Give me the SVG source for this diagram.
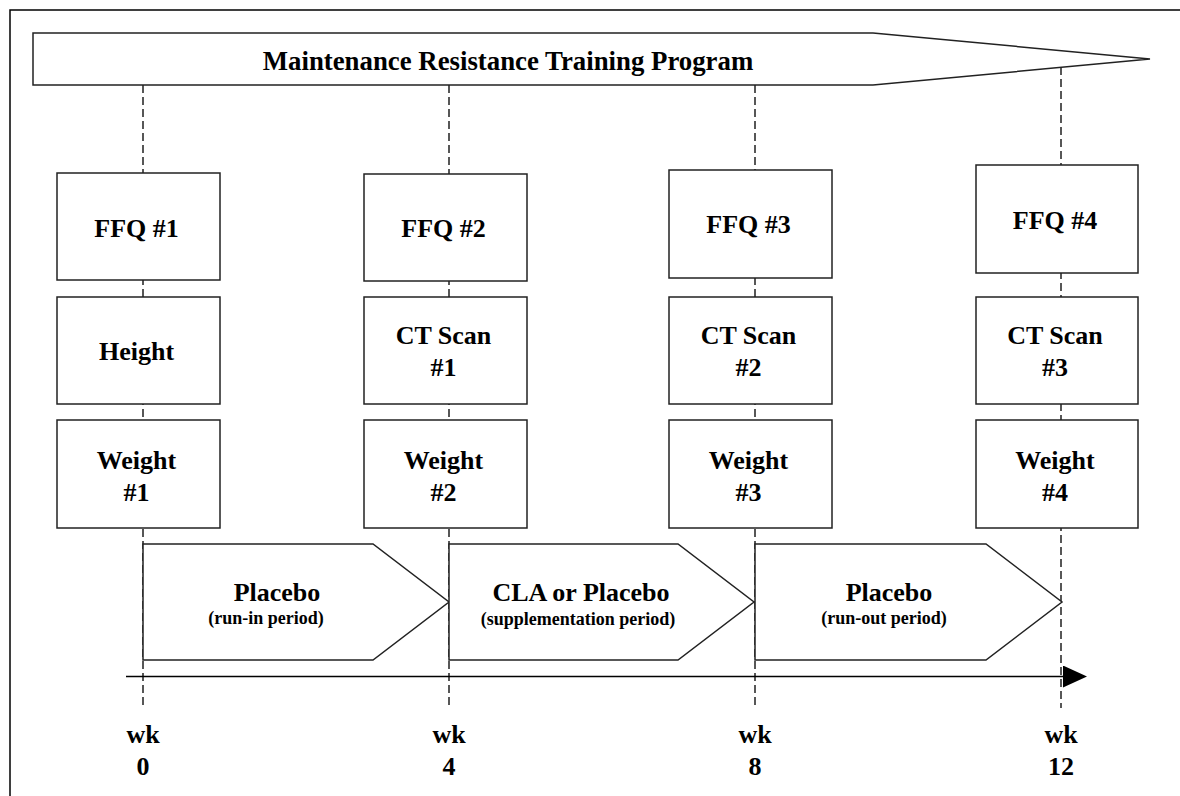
<svg xmlns="http://www.w3.org/2000/svg" width="1180" height="796" viewBox="0 0 1180 796">
<style>
.frame{fill:none;stroke:#000;stroke-width:1.5}
.box{fill:#fff;stroke:#222;stroke-width:1.5}
.dash{fill:none;stroke:#111;stroke-width:1.4;stroke-dasharray:8 4}
.axis{fill:none;stroke:#000;stroke-width:1.5}
.t{font-family:"Liberation Serif","Times New Roman",serif;font-weight:bold;font-size:26px;fill:#000;text-anchor:middle}
.ttl{font-size:26.8px}
.s{font-family:"Liberation Serif","Times New Roman",serif;font-weight:bold;font-size:18px;fill:#000;text-anchor:middle}
</style>
<defs>
<marker id="arr" markerWidth="24" markerHeight="22" refX="0" refY="11" orient="auto" markerUnits="userSpaceOnUse">
<path d="M0,0 L24,11 L0,22 Z" fill="#000"/>
</marker>
</defs>
<rect width="1180" height="796" fill="#fff"/>
<rect class="frame" x="10" y="10" width="1200" height="820"/>

<g id="connectors">
<line class="dash" x1="143" y1="85" x2="143" y2="708"/>
<line class="dash" x1="449" y1="85" x2="449" y2="708"/>
<line class="dash" x1="755" y1="85" x2="755" y2="708"/>
<line class="dash" x1="1061" y1="67" x2="1061" y2="708"/>
</g>

<g id="banner">
<polygon class="box" points="33,33 873,33 1150,59 873,85 33,85"/>
<text class="t ttl" x="508" y="70">Maintenance Resistance Training Program</text>
</g>

<g id="ffq1"><rect class="box" x="57" y="173" width="163" height="107"/><text class="t" x="136.5" y="237">FFQ #1</text></g>
<g id="height"><rect class="box" x="57" y="297" width="163" height="107"/><text class="t" x="136.5" y="360">Height</text></g>
<g id="weight1"><rect class="box" x="57" y="420" width="163" height="108"/><text class="t" x="136.5" y="469">Weight</text><text class="t" x="136.5" y="501">#1</text></g>

<g id="ffq2"><rect class="box" x="364" y="174" width="163" height="107"/><text class="t" x="443.5" y="237">FFQ #2</text></g>
<g id="ct1"><rect class="box" x="364" y="297" width="163" height="107"/><text class="t" x="443.5" y="344">CT Scan</text><text class="t" x="443.5" y="376">#1</text></g>
<g id="weight2"><rect class="box" x="364" y="420" width="163" height="108"/><text class="t" x="443.5" y="469">Weight</text><text class="t" x="443.5" y="501">#2</text></g>

<g id="ffq3"><rect class="box" x="669" y="170" width="163" height="108"/><text class="t" x="748.5" y="233">FFQ #3</text></g>
<g id="ct2"><rect class="box" x="669" y="297" width="163" height="107"/><text class="t" x="748.5" y="344">CT Scan</text><text class="t" x="748.5" y="376">#2</text></g>
<g id="weight3"><rect class="box" x="669" y="420" width="163" height="108"/><text class="t" x="748.5" y="469">Weight</text><text class="t" x="748.5" y="501">#3</text></g>

<g id="ffq4"><rect class="box" x="976" y="165" width="162" height="108"/><text class="t" x="1055" y="229">FFQ #4</text></g>
<g id="ct3"><rect class="box" x="976" y="297" width="162" height="107"/><text class="t" x="1055" y="344">CT Scan</text><text class="t" x="1055" y="376">#3</text></g>
<g id="weight4"><rect class="box" x="976" y="420" width="162" height="108"/><text class="t" x="1055" y="469">Weight</text><text class="t" x="1055" y="501">#4</text></g>

<g id="phase1"><polygon class="box" points="143,544 373,544 449,602 373,660 143,660"/><text class="t" x="277" y="601">Placebo</text><text class="s" x="266" y="624">(run-in period)</text></g>
<g id="phase2"><polygon class="box" points="449,544 678,544 754,602 678,660 449,660"/><text class="t" x="581" y="601">CLA or Placebo</text><text class="s" x="578" y="625">(supplementation period)</text></g>
<g id="phase3"><polygon class="box" points="755,544 986,544 1062,602 986,660 755,660"/><text class="t" x="889" y="601">Placebo</text><text class="s" x="884" y="624">(run-out period)</text></g>

<g id="axis">
<line class="axis" x1="126" y1="676.5" x2="1063" y2="676.5" marker-end="url(#arr)"/>
</g>

<g id="wk0"><text class="t" x="143" y="743">wk</text><text class="t" x="143" y="775">0</text></g>
<g id="wk4"><text class="t" x="449" y="743">wk</text><text class="t" x="449" y="775">4</text></g>
<g id="wk8"><text class="t" x="755" y="743">wk</text><text class="t" x="755" y="775">8</text></g>
<g id="wk12"><text class="t" x="1061" y="743">wk</text><text class="t" x="1061" y="775">12</text></g>
</svg>
